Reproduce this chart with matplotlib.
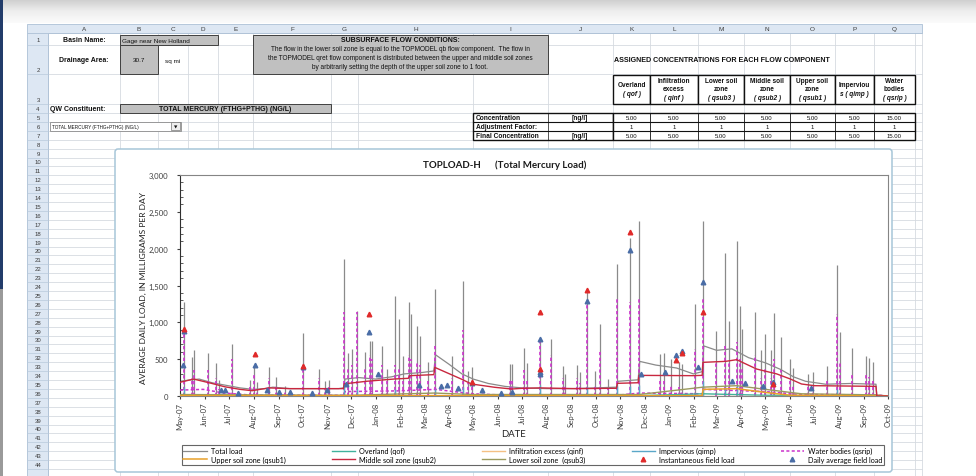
import matplotlib
matplotlib.use("Agg")
import matplotlib.pyplot as plt
import matplotlib.dates as mdates
from matplotlib.colors import LinearSegmentedColormap
from matplotlib.patches import Rectangle, FancyBboxPatch
from matplotlib.ticker import MultipleLocator, FuncFormatter
import numpy as np
import pandas as pd

# ---------------- spreadsheet values
basin_name = "Gage near New Holland"
drainage_area = "30.7"
constituent = "TOTAL MERCURY (FTHG+PTHG) (NG/L)"
subsurface_text = [
    "The flow in the lower soil zone is equal to the TOPMODEL qb flow component.  The flow in",
    "the TOPMODEL qret flow component is distributed between the upper and middle soil zones",
    "by arbitrarily setting the depth of the upper soil zone to 1 foot.",
]
comp_names = ["Overland", "Infiltration\nexcess", "Lower soil\nzone", "Middle soil\nzone",
              "Upper soil\nzone", "Imperviou", "Water\nbodies"]
comp_codes = ["( qof )", "( qinf )", "( qsub3 )", "( qsub2 )", "( qsub1 )", "s ( qimp )", "( qsrip )"]
concentration = [5.00, 5.00, 5.00, 5.00, 5.00, 5.00, 15.00]
adjust_factor = [1, 1, 1, 1, 1, 1, 1]

# ---------------- chart series (mg/day)
spike_dates = [
    "2007-05-06", "2007-05-16", "2007-05-18", "2007-06-05", "2007-06-15", "2007-06-19", "2007-07-05",
    "2007-07-28", "2007-08-02", "2007-08-05", "2007-08-20", "2007-08-29", "2007-09-09", "2007-10-01",
    "2007-10-22", "2007-10-29", "2007-11-03", "2007-11-22", "2007-11-27", "2007-12-02", "2007-12-08",
    "2007-12-18", "2007-12-24", "2007-12-27",
    "2008-01-08", "2008-01-14", "2008-01-25", "2008-01-29", "2008-02-03", "2008-02-11", "2008-02-14",
    "2008-02-21", "2008-02-25", "2008-03-06", "2008-03-14", "2008-04-05", "2008-04-18", "2008-04-25",
    "2008-04-29", "2008-06-16", "2008-06-19", "2008-07-04", "2008-07-07", "2008-07-23", "2008-08-06",
    "2008-08-21", "2008-08-24", "2008-09-08", "2008-09-11", "2008-09-20", "2008-09-30", "2008-10-06",
    "2008-10-17", "2008-10-28", "2008-11-13", "2008-11-24", "2008-12-20", "2008-12-25",
    "2009-01-03", "2009-01-13", "2009-01-17", "2009-02-02", "2009-02-12", "2009-02-28", "2009-03-12",
    "2009-03-16", "2009-03-26", "2009-03-30", "2009-04-02", "2009-04-18", "2009-04-25", "2009-05-01",
    "2009-05-08", "2009-05-12", "2009-05-21", "2009-06-01", "2009-06-04", "2009-06-23", "2009-06-29",
    "2009-07-17", "2009-07-29", "2009-08-02", "2009-08-17", "2009-09-03", "2009-09-07", "2009-09-12",
]
total_peaks = [
    1280, 533, 628, 583, 448, 221, 701, 221, 411, 190, 389, 253, 137, 855, 366, 199, 221, 1859, 583, 638,
    1158, 593, 751, 751,
    683, 366, 1353, 1045, 547, 1271, 1113, 954, 810, 457, 1452, 547, 1565, 343, 389, 434, 434, 651, 448,
    773, 773, 411, 300, 421, 320, 1407, 344, 977, 230, 1791, 2150, 2379, 570, 584,
    502, 460, 430, 1248, 2379, 886, 1940, 1022, 2108, 1226, 909, 1135, 620, 841, 620, 1122, 796, 502,
    380, 300, 321, 411, 1782, 864, 647, 547, 520, 457,
]
qsrip_peaks = [
    900, 250, 350, 350, 250, 100, 500, 120, 300, 100, 250, 150, 60, 420, 250, 100, 120, 1140, 380, 420,
    1140, 380, 560, 500,
    420, 200, 420, 380, 250, 550, 500, 450, 420, 200, 680, 250, 900, 180, 200, 200, 200, 350, 220,
    770, 550, 250, 150, 250, 180, 1290, 150, 600, 100, 1310, 1270, 1310, 200, 200,
    150, 120, 100, 640, 1310, 450, 680, 450, 730, 500, 400, 550, 250, 400, 250, 500, 350, 200,
    150, 150, 150, 200, 1110, 450, 300, 280, 260, 230,
]

total_base_dates = [
    "2007-05-01", "2007-05-15", "2007-05-25", "2007-06-10", "2007-06-30", "2007-07-15", "2007-07-31",
    "2007-08-15", "2007-08-25", "2007-09-15", "2007-10-15", "2007-11-15", "2007-11-21", "2007-11-23",
    "2007-12-10", "2007-12-31", "2008-01-20", "2008-02-05", "2008-02-28", "2008-03-13", "2008-03-15",
    "2008-04-01", "2008-04-17", "2008-05-01", "2008-05-20", "2008-06-10", "2008-07-01", "2008-08-01",
    "2008-09-01", "2008-10-01", "2008-10-27", "2008-10-29", "2008-11-23", "2008-11-25", "2008-12-15",
    "2009-01-10", "2009-01-31", "2009-02-11", "2009-02-13", "2009-03-01", "2009-03-20", "2009-04-10",
    "2009-05-01", "2009-05-20", "2009-06-05", "2009-06-20", "2009-07-15", "2009-08-15", "2009-09-16",
    "2009-09-17", "2009-09-30",
]
total_base = [
    200, 220, 230, 180, 140, 110, 90, 100, 120, 100, 100, 100, 110, 230, 250, 230, 260, 300, 320, 340,
    560, 430, 300, 230, 170, 130, 110, 100, 100, 110, 120, 200, 220, 470, 420, 380, 300, 330, 680, 620,
    640, 520, 450, 360, 260, 200, 160, 170, 160, 0, 0,
]

qsub2_dates = [
    "2007-05-01", "2007-05-18", "2007-06-10", "2007-06-26", "2007-07-15", "2007-07-30", "2007-08-20",
    "2007-09-15", "2007-11-21", "2007-11-22", "2007-12-20", "2008-01-24", "2008-02-10", "2008-02-12",
    "2008-03-13", "2008-03-14", "2008-04-16", "2008-04-29", "2008-05-28", "2008-06-18", "2008-07-01",
    "2008-07-23", "2008-09-06", "2008-10-27", "2008-10-28", "2008-11-23", "2008-11-24", "2009-01-30",
    "2009-02-11", "2009-02-12", "2009-03-12", "2009-03-26", "2009-04-20", "2009-05-15", "2009-06-01",
    "2009-06-15", "2009-07-01", "2009-09-16", "2009-09-17", "2009-09-30",
]
qsub2 = [
    186, 230, 170, 125, 90, 72, 110, 100, 100, 165, 200, 231, 240, 276, 290, 389, 231, 163, 118, 95,
    104, 110, 100, 105, 172, 180, 280, 276, 280, 457, 470, 493, 366, 300, 231, 163, 140, 131, 0, 0,
]

qsrip_base_dates = [
    "2007-05-01", "2007-05-30", "2007-06-25", "2007-08-01", "2007-11-21", "2007-11-23", "2008-01-31",
    "2008-03-15", "2008-04-30", "2008-06-15", "2008-10-27", "2008-11-25", "2009-02-11", "2009-02-13",
    "2009-04-30", "2009-06-15", "2009-09-17", "2009-09-30",
]
qsrip_base = [80, 90, 40, 10, 10, 60, 70, 90, 30, 10, 10, 40, 30, 90, 60, 20, 15, 0]

qsub3_dates = ["2007-05-01", "2007-12-01", "2008-03-14", "2008-05-01", "2008-11-24", "2009-02-12",
               "2009-03-26", "2009-05-01", "2009-06-15", "2009-09-17", "2009-09-30"]
qsub3 = [20, 10, 40, 20, 20, 120, 140, 90, 30, 15, 0]
qsub1_dates = ["2007-05-01", "2009-02-11", "2009-02-12", "2009-03-26", "2009-04-30", "2009-06-01",
               "2009-09-30"]
qsub1 = [5, 5, 90, 100, 50, 10, 0]
qinf_dates = ["2007-05-01", "2009-09-30"]
qinf = [0, 0]
qof_dates = ["2007-05-01", "2008-11-24", "2009-02-12", "2009-04-30", "2009-09-30"]
qof = [2, 5, 30, 10, 0]
qimp_dates = ["2007-05-06", "2007-11-22", "2007-12-08", "2008-01-25", "2008-03-14", "2008-04-18",
              "2008-07-23", "2008-09-20", "2008-10-28", "2008-11-13", "2008-11-24", "2009-02-12",
              "2009-03-12", "2009-03-26", "2009-07-29"]
qimp = [120, 150, 100, 90, 100, 120, 150, 120, 130, 140, 150, 200, 120, 130, 100]

inst_dates = ["2007-05-06", "2007-08-03", "2007-10-01", "2007-12-23", "2008-04-29", "2008-07-23",
              "2008-07-23", "2008-09-20", "2008-11-13", "2009-01-09", "2009-01-17", "2009-02-12",
              "2009-05-11"]
inst_load = [909, 566, 411, 1113, 186, 1144, 366, 1436, 2221, 484, 584, 1135, 165]
daily_dates = ["2007-05-05", "2007-05-06", "2007-06-21", "2007-06-26", "2007-07-13", "2007-08-03",
               "2007-08-18", "2007-09-01", "2007-09-15", "2007-10-01", "2007-10-13", "2007-10-31",
               "2007-11-24", "2007-12-23", "2008-01-03", "2008-02-23", "2008-03-22", "2008-03-29",
               "2008-04-12", "2008-04-29", "2008-05-12", "2008-06-05", "2008-06-18", "2008-07-23",
               "2008-07-23", "2008-07-23", "2008-09-20", "2008-11-13", "2008-11-27", "2008-12-27",
               "2009-01-09", "2009-01-17", "2009-02-06", "2009-02-12", "2009-03-20", "2009-04-06",
               "2009-04-28", "2009-05-11", "2009-06-27"]
daily_load = [420, 878, 85, 85, 40, 421, 85, 59, 59, 395, 40, 77, 163, 873, 298, 154, 131, 149, 104,
              170, 86, 40, 50, 773, 330, 300, 1294, 1986, 298, 321, 556, 615, 389, 1551, 208, 172,
              131, 195, 109]

# ---------------- figure / sheet background in pixel units
W, H = 976, 477
SHEET = "Liberation Sans"
CHART = "Lato"
fig = plt.figure(figsize=(W / 100, H / 100), dpi=100)
bg = fig.add_axes([0, 0, 1, 1])

grad = np.linspace(0, 1, 60)[:, None]
cmap = LinearSegmentedColormap.from_list("top", ["#cdcdcd", "#eeeeee", "#fbfbfb"])
bg.imshow(grad, extent=(0, W, 24, 0), cmap=cmap, aspect="auto", zorder=0)
bg.set_xlim(0, W)
bg.set_ylim(H, 0)
bg.axis("off")


def box(x0, y0, x1, y1, fc="none", ec="none", lw=0.6, z=2):
    bg.add_patch(Rectangle((x0, y0), x1 - x0, y1 - y0, facecolor=fc, edgecolor=ec, lw=lw, zorder=z))


def txt(x, y, s, size=5, weight="normal", ha="center", style="normal", color="#111111", family=SHEET):
    bg.text(x, y, s, fontsize=size, fontweight=weight, ha=ha, va="center", style=style,
            color=color, family=family, zorder=5, linespacing=1.1)


# window edge on the left
box(0, 0, 3, 290, fc="#223c6a")
box(0, 290, 3, H, fc="#9a9a9a")

col_edges = [48, 120, 158, 188, 218, 253, 331, 358, 473, 548, 613, 650, 698, 744, 790, 835, 874, 915]
row_edges = [34, 46, 75, 104.5, 114] + [114 + 8.9 * j for j in range(1, 42)]
row_mid = [41, 71, 100, 109.5] + [118.5 + 8.9 * j for j in range(40)]

# gridlines
for y in row_edges:
    bg.plot([48, 922], [y, y], color="#d6dae0", lw=0.6, zorder=1)
for x in col_edges + [922]:
    bg.plot([x, x], [34, H], color="#d6dae0", lw=0.6, zorder=1)

# column and row headers
box(27, 25, 922, 34, fc="#dde7f3", ec="#9fb6cf", lw=0.5)
for i, letter in enumerate("ABCDEFGHIJKLMNOPQ"):
    txt((col_edges[i] + col_edges[i + 1]) / 2, 29.8, letter, size=4.6, color="#3a3a3a")
box(27, 34, 48, H, fc="#dde7f3", ec="#9fb6cf", lw=0.5)
for y in row_edges:
    bg.plot([27, 48], [y, y], color="#b9c9dc", lw=0.5, zorder=3)
for i, y in enumerate(row_mid):
    txt(38, y, str(i + 1), size=4.3, color="#3a3a3a")

# cells
txt(84, 41, "Basin Name:", weight="bold")
box(120, 35.5, 218, 46, fc="#c0c0c0", ec="#404040", lw=0.7)
txt(122, 41, basin_name, size=4.6, ha="left")
txt(84, 61, "Drainage Area:", weight="bold")
box(120, 46, 158, 75, fc="#c0c0c0", ec="#404040", lw=0.7)
txt(139, 61, drainage_area, size=4.6)
txt(165, 61, "sq mi", size=4.6, ha="left")

box(253, 36, 548, 75, fc="#c0c0c0", ec="#404040", lw=0.7)
txt(400, 41, "SUBSURFACE FLOW CONDITIONS:", size=5, weight="bold")
for k, line in enumerate(subsurface_text):
    txt(400, 49.5 + 8.8 * k, line, size=4.7)

txt(614, 60, "ASSIGNED CONCENTRATIONS FOR EACH FLOW COMPONENT", size=5.1, weight="bold", ha="left")

txt(50, 109.5, "QW Constituent:", weight="bold", ha="left")
box(120, 105, 331, 113.5, fc="#c0c0c0", ec="#404040", lw=0.7)
txt(225, 109.3, constituent, size=5, weight="bold")

box(50, 122.5, 181, 132, fc="white", ec="#8a8a8a", lw=0.6)
txt(52, 127.3, constituent, size=3.3, ha="left")
box(171, 123.2, 180.3, 131.3, fc="#eeeeee", ec="#777777", lw=0.5, z=3)
txt(175.7, 127.3, "\u25bc", size=3.2, family="DejaVu Sans")

# component table header
for i in range(7):
    x0, x1 = col_edges[10 + i], col_edges[11 + i]
    xc = (x0 + x1) / 2
    box(x0, 75.5, x1, 104.5, fc="white", ec="#111111", lw=1.0, z=3)
    lines = comp_names[i].split("\n")
    if len(lines) == 1:
        txt(xc, 85.5, lines[0], size=4.7, weight="bold")
        txt(xc, 94, comp_codes[i], size=4.7, weight="bold", style="italic")
    else:
        for k, ln in enumerate(lines):
            txt(xc, 81.5 + 8 * k, ln, size=4.7, weight="bold")
        txt(xc, 98, comp_codes[i], size=4.7, weight="bold", style="italic")

# concentration table
label_rows = ["Concentration", "Adjustment Factor:", "Final Concentration"]
unit_rows = ["[ng/l]", "", "[ng/l]"]
row_y = [118.5, 127.4, 136.3]
box(473, 114, 613, 141, fc="white", ec="#111111", lw=1.0, z=3)
box(613, 114, 915, 141, fc="white", ec="#111111", lw=1.0, z=3)
for y in [122.9, 131.8]:
    bg.plot([473, 915], [y, y], color="#111111", lw=0.8, zorder=4)
for x in col_edges[10:17]:
    bg.plot([x, x], [114, 141], color="#111111", lw=0.6, zorder=4)
bg.plot([548, 548], [114, 141], color="#111111", lw=0.5, zorder=4)
final_conc = [c * a for c, a in zip(concentration, adjust_factor)]
for r in range(3):
    txt(476, row_y[r], label_rows[r], size=4.8, weight="bold", ha="left")
    txt(580, row_y[r], unit_rows[r], size=4.8, weight="bold")
for i in range(7):
    xc = (col_edges[10 + i] + col_edges[11 + i]) / 2
    txt(xc, row_y[0], f"{concentration[i]:.2f}", size=4.3)
    txt(xc, row_y[1], f"{adjust_factor[i]}", size=4.3)
    txt(xc, row_y[2], f"{final_conc[i]:.2f}", size=4.3)

# chart area
bg.add_patch(FancyBboxPatch((115, 150), 777, 323, boxstyle="round,pad=0,rounding_size=3",
                            facecolor="white", edgecolor="#a7c6d8", lw=1.1, zorder=6))
bg.text(505, 165.5, "TOPLOAD-H      (Total Mercury Load)", fontsize=7, fontweight="bold",
        ha="center", va="center", family=CHART, color="#1a1a1a", zorder=7)
bg.text(143, 288, "AVERAGE DAILY LOAD, IN MILLIGRAMS PER DAY", fontsize=6.1, rotation=90,
        ha="center", va="center", family=CHART, color="#222222", zorder=7)
bg.text(514, 435, "DATE", fontsize=6.8, ha="center", va="center", family=CHART,
        color="#222222", zorder=7)

ax = fig.add_axes([180 / W, 1 - 397 / H, 708 / W, 221 / H])
ax.set_zorder(8)
d = pd.to_datetime

ax.vlines(d(spike_dates), 0, total_peaks, color="#8a8a8a", lw=0.9, zorder=2)
l_total, = ax.plot(d(total_base_dates), total_base, color="#8a8a8a", lw=0.9, zorder=2, label="Total load")
ax.vlines(d(spike_dates), 0, qsrip_peaks, color="#cc33cc", lw=1.2, linestyles=(0, (2, 1.5)), zorder=3)
l_qsrip, = ax.plot(d(qsrip_base_dates), qsrip_base, color="#cc33cc", lw=1.1, ls=(0, (2, 1.5)), zorder=3,
                   label="Water bodies (qsrip)")
ax.vlines(d(qimp_dates), 0, qimp, color="#5aa7c8", lw=1.0, zorder=3)
l_qimp, = ax.plot([], [], color="#5aa7c8", lw=1.0, label="Impervious (qimp)")
l_qof, = ax.plot(d(qof_dates), qof, color="#3fb29c", lw=1.0, zorder=3, label="Overland (qof)")
l_qinf, = ax.plot(d(qinf_dates), qinf, color="#f4c084", lw=1.0, zorder=3, label="Infiltration excess (qinf)")
l_qsub3, = ax.plot(d(qsub3_dates), qsub3, color="#9a9a5e", lw=1.0, zorder=3, label="Lower soil zone  (qsub3)")
l_qsub1, = ax.plot(d(qsub1_dates), qsub1, color="#e8a02a", lw=1.1, zorder=4, label="Upper soil zone (qsub1)")
l_qsub2, = ax.plot(d(qsub2_dates), qsub2, color="#c8283f", lw=1.0, zorder=4, label="Middle soil zone (qsub2)")
l_inst, = ax.plot(d(inst_dates), inst_load, ls="none", marker="^", ms=3.3, color="#e02a2a", zorder=6,
                  label="Instantaneous field load")
l_daily, = ax.plot(d(daily_dates), daily_load, ls="none", marker="^", ms=3.3, color="#4a6da6", zorder=5,
                   label="Daily average field load")

ax.set_xlim(d("2007-05-01"), d("2009-10-01"))
ax.set_ylim(0, 3000)
ax.yaxis.set_major_locator(MultipleLocator(500))
ax.yaxis.set_minor_locator(MultipleLocator(100))
ax.yaxis.set_major_formatter(FuncFormatter(lambda v, p: f"{v:,.0f}"))
ax.xaxis.set_major_locator(mdates.MonthLocator())
ax.xaxis.set_major_formatter(mdates.DateFormatter("%b-%y"))
ax.tick_params(axis="y", which="major", length=2.5, direction="out", labelsize=5.6, pad=6,
               colors="#404040")
ax.tick_params(axis="y", which="minor", length=2, direction="in", colors="#404040")
ax.tick_params(axis="x", which="major", length=2, direction="out", labelsize=5.6, pad=2,
               labelrotation=90, colors="#404040")
for lab in ax.get_xticklabels() + ax.get_yticklabels():
    lab.set_family(CHART)
for s in ax.spines.values():
    s.set_color("#858585")
    s.set_linewidth(0.8)
ax.spines["left"].set_color("#303030")

handles = [l_total, l_qsub1, l_qof, l_qsub2, l_qinf, l_qsub3, l_qimp, l_inst, l_qsrip, l_daily]
leg = ax.legend(handles=handles, ncol=5, loc="center", mode="expand",
                bbox_to_anchor=(178 / W, 1 - 467 / H, 710 / W, 22 / H), bbox_transform=fig.transFigure,
                prop={"family": CHART, "size": 5.2}, frameon=True, fancybox=False, borderpad=0.25,
                handlelength=3.2, handletextpad=0.6, labelspacing=0.2, columnspacing=1.0, numpoints=1)
leg.get_frame().set_edgecolor("#404040")
leg.get_frame().set_linewidth(0.8)

fig.savefig("out.png", dpi=100)
